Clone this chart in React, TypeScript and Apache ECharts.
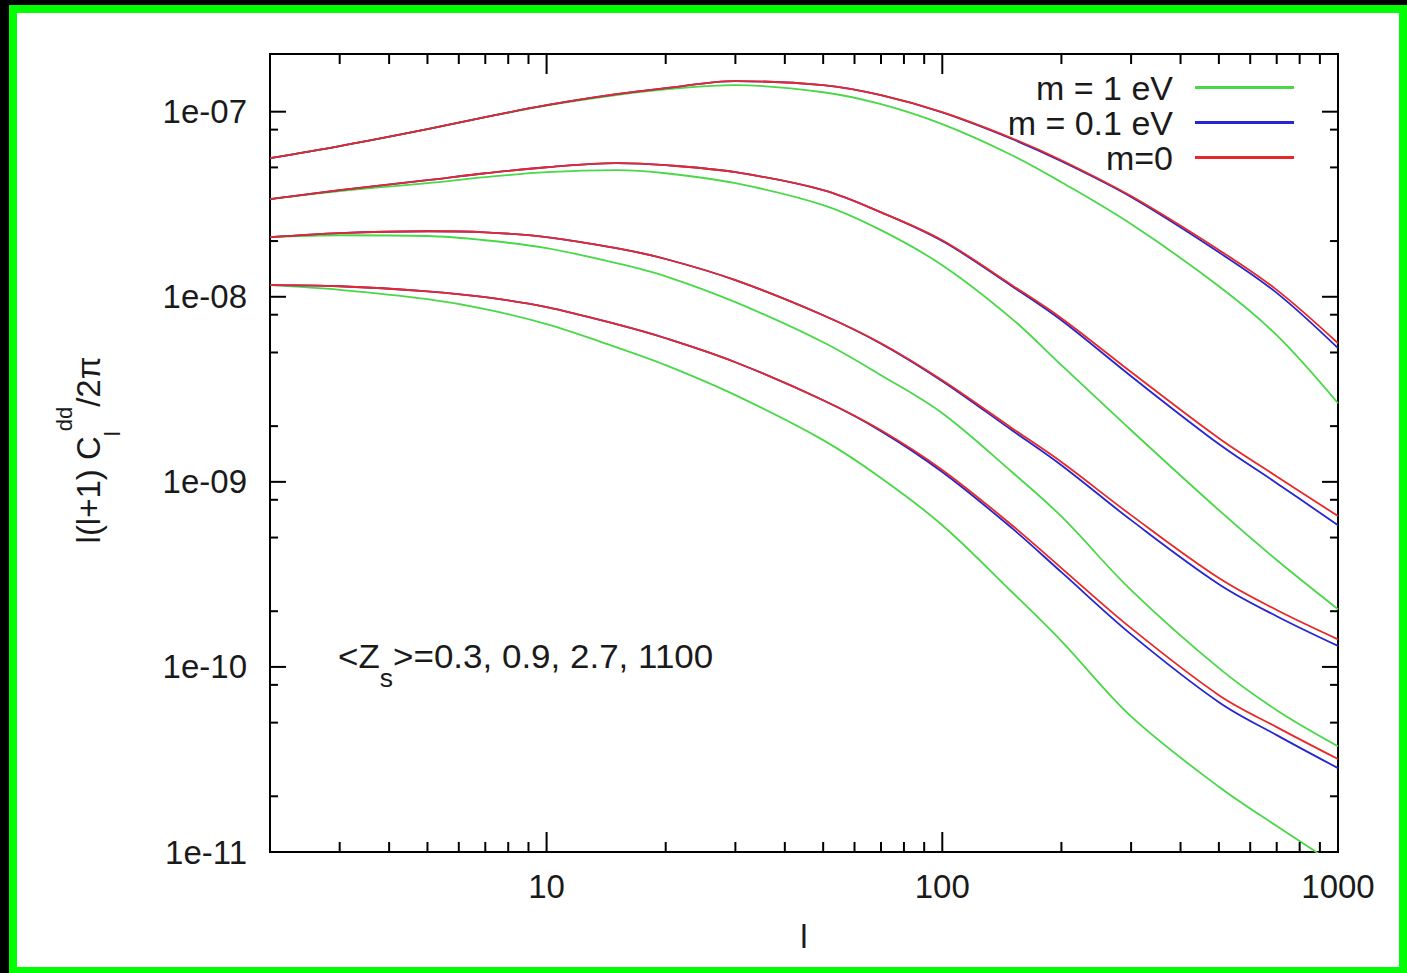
import React, { useEffect, useRef } from 'react';
import * as echarts from 'echarts';

// multipole l
const ells = [2, 3, 5, 7, 10, 15, 20, 30, 50, 70, 100, 150, 200, 300, 500, 700, 1000];

// <z_s> = 1100
const z1100_m0 = [5.61e-8, 6.51e-8, 8.04e-8, 9.34e-8, 1.084e-7, 1.243e-7, 1.34e-7, 1.462e-7, 1.391e-7, 1.228e-7, 9.94e-8, 7.19e-8, 5.47e-8, 3.5e-8, 1.79e-8, 1.09e-8, 5.61e-9];
const z1100_m01 = [5.61e-8, 6.51e-8, 8.04e-8, 9.34e-8, 1.084e-7, 1.243e-7, 1.34e-7, 1.462e-7, 1.391e-7, 1.228e-7, 9.9e-8, 7.12e-8, 5.4e-8, 3.46e-8, 1.74e-8, 1.05e-8, 5.28e-9];
const z1100_m1 = [5.61e-8, 6.51e-8, 8.04e-8, 9.34e-8, 1.08e-7, 1.23e-7, 1.32e-7, 1.391e-7, 1.274e-7, 1.098e-7, 8.56e-8, 5.82e-8, 4.16e-8, 2.47e-8, 1.14e-8, 6.2e-9, 2.66e-9];

// <z_s> = 2.7
const z27_m0 = [3.37e-8, 3.77e-8, 4.27e-8, 4.65e-8, 5.01e-8, 5.27e-8, 5.14e-8, 4.71e-8, 3.77e-8, 2.86e-8, 2.02e-8, 1.155e-8, 7.66e-9, 3.92e-9, 1.72e-9, 1.07e-9, 6.53e-10];
const z27_m01 = [3.37e-8, 3.77e-8, 4.27e-8, 4.65e-8, 5.01e-8, 5.27e-8, 5.14e-8, 4.71e-8, 3.77e-8, 2.86e-8, 2.0e-8, 1.14e-8, 7.47e-9, 3.72e-9, 1.6e-9, 9.84e-10, 5.83e-10];
const z27_m1 = [3.37e-8, 3.72e-8, 4.11e-8, 4.43e-8, 4.71e-8, 4.83e-8, 4.65e-8, 4.11e-8, 3.13e-8, 2.29e-8, 1.48e-8, 7.6e-9, 4.27e-9, 1.9e-9, 7.03e-10, 3.78e-10, 2.05e-10];

// <z_s> = 0.9
const z09_m0 = [2.1e-8, 2.21e-8, 2.26e-8, 2.23e-8, 2.1e-8, 1.83e-8, 1.6e-8, 1.23e-8, 7.95e-9, 5.61e-9, 3.54e-9, 1.95e-9, 1.28e-9, 6.61e-10, 3.02e-10, 2.03e-10, 1.41e-10];
const z09_m01 = [2.1e-8, 2.21e-8, 2.26e-8, 2.23e-8, 2.1e-8, 1.83e-8, 1.6e-8, 1.23e-8, 7.95e-9, 5.58e-9, 3.5e-9, 1.9e-9, 1.23e-9, 6.21e-10, 2.8e-10, 1.88e-10, 1.3e-10];
const z09_m1 = [2.1e-8, 2.15e-8, 2.13e-8, 2.02e-8, 1.83e-8, 1.52e-8, 1.29e-8, 9.35e-9, 5.68e-9, 3.77e-9, 2.35e-9, 1.13e-9, 6.5e-10, 2.6e-10, 9.85e-11, 5.84e-11, 3.73e-11];

// <z_s> = 0.3
const z03_m0 = [1.155e-8, 1.14e-8, 1.07e-8, 9.95e-9, 8.79e-9, 7.11e-9, 5.97e-9, 4.43e-9, 2.76e-9, 1.9e-9, 1.16e-9, 5.83e-10, 3.42e-10, 1.62e-10, 7.04e-11, 4.73e-11, 3.18e-11];
const z03_m01 = [1.155e-8, 1.14e-8, 1.07e-8, 9.95e-9, 8.79e-9, 7.11e-9, 5.97e-9, 4.43e-9, 2.76e-9, 1.88e-9, 1.13e-9, 5.62e-10, 3.25e-10, 1.5e-10, 6.45e-11, 4.28e-11, 2.84e-11];
const z03_m1 = [1.155e-8, 1.09e-8, 9.7e-9, 8.57e-9, 7.11e-9, 5.34e-9, 4.27e-9, 2.94e-9, 1.68e-9, 1.05e-9, 5.83e-10, 2.54e-10, 1.38e-10, 5.4e-11, 2.25e-11, 1.38e-11, 8.39e-12];

// legend names
const massNames = ['m = 1 eV', 'm = 0.1 eV', 'm=0'];

// axis ranges and ticks
const X_MIN = 2;
const X_MAX = 1000;
const Y_MIN = 1e-11;
const Y_MAX = 2.05e-7;
const xMajorTicks = [10, 100, 1000];
const xMinorTicks = [3, 4, 5, 6, 7, 8, 9, 20, 30, 40, 50, 60, 70, 80, 90, 200, 300, 400, 500, 600, 700, 800, 900];
const yMajorTicks = [1e-11, 1e-10, 1e-9, 1e-8, 1e-7];
const yMinorTicks = [2e-11, 5e-11, 8e-11, 2e-10, 5e-10, 8e-10, 2e-9, 5e-9, 8e-9, 2e-8, 5e-8, 8e-8];

const annotationText = '{m|<Z}{s|s}{m|>=0.3, 0.9, 2.7, 1100}';
const yTitleText = '{m|l(l+1) C}{b|l}{p|dd}{m|/2π}';

const FONT = '"Liberation Sans", Arial, Helvetica, sans-serif';
const TEXT_COLOR = '#1a1a1a';
const COLORS = { m1: '#48d848', m01: '#2626d0', m0: '#e82828' };

function pair(vals: number[]) {
  return ells.map((l, i) => [l, vals[i]]);
}

function isPow10(v: number) {
  const e = Math.log10(v);
  return Math.abs(e - Math.round(e)) < 1e-6;
}

function lineSeries(name: string, vals: number[], color: string, z: number) {
  return {
    type: 'line',
    name,
    data: pair(vals),
    smooth: 0.35,
    showSymbol: false,
    symbol: 'none',
    z,
    lineStyle: { color, width: 1.8 },
    itemStyle: { color },
    emphasis: { disabled: true },
  };
}

function tickSeries(vals: number[], axis: 'x' | 'y', len: number) {
  return {
    type: 'custom',
    silent: true,
    z: 10,
    clip: false,
    data: vals.map((v) => (axis === 'x' ? [v, Y_MIN] : [X_MIN, v])),
    renderItem: (params: any, api: any) => {
      const cs = params.coordSys;
      const p = api.coord([api.value(0), api.value(1)]);
      const style = { stroke: '#000', lineWidth: 2 };
      if (axis === 'x') {
        const b = cs.y + cs.height;
        return {
          type: 'group',
          children: [
            { type: 'line', shape: { x1: p[0], y1: b, x2: p[0], y2: b - len }, style },
            { type: 'line', shape: { x1: p[0], y1: cs.y, x2: p[0], y2: cs.y + len }, style },
          ],
        };
      }
      const r = cs.x + cs.width;
      return {
        type: 'group',
        children: [
          { type: 'line', shape: { x1: cs.x, y1: p[1], x2: cs.x + len, y2: p[1] }, style },
          { type: 'line', shape: { x1: r, y1: p[1], x2: r - len, y2: p[1] }, style },
        ],
      };
    },
  };
}

export default function App() {
  const ref = useRef<HTMLDivElement>(null);

  useEffect(() => {
    if (!ref.current) return;
    const chart = echarts.init(ref.current, null, { renderer: 'svg' });
    const option = {
      animation: false,
      backgroundColor: '#000',
      graphic: [
        { type: 'rect', z: -10, silent: true, shape: { x: 9, y: 5, width: 1398, height: 968 }, style: { fill: '#00ff00' } },
        { type: 'rect', z: -9, silent: true, shape: { x: 17, y: 13, width: 1382, height: 954 }, style: { fill: '#ffffff' } },
        {
          type: 'text',
          z: 20,
          x: 88,
          y: 450,
          rotation: Math.PI / 2,
          style: {
            text: yTitleText,
            align: 'center',
            verticalAlign: 'middle',
            fill: TEXT_COLOR,
            fontFamily: FONT,
            rich: {
              m: { fontSize: 33, lineHeight: 70, fontFamily: FONT, fill: TEXT_COLOR },
              b: { fontSize: 22, lineHeight: 50, verticalAlign: 'bottom', fontFamily: FONT, fill: TEXT_COLOR },
              p: { fontSize: 22, lineHeight: 30, verticalAlign: 'top', fontFamily: FONT, fill: TEXT_COLOR },
            },
          },
        },
        {
          type: 'text',
          z: 20,
          x: 338,
          y: 656,
          scaleX: 1.06,
          style: {
            text: annotationText,
            align: 'left',
            verticalAlign: 'middle',
            fill: TEXT_COLOR,
            fontFamily: FONT,
            rich: {
              m: { fontSize: 33, lineHeight: 70, fontFamily: FONT, fill: TEXT_COLOR },
              s: { fontSize: 25, lineHeight: 34, verticalAlign: 'bottom', fontFamily: FONT, fill: TEXT_COLOR },
            },
          },
        },
      ],
      grid: {
        left: 270,
        top: 54,
        right: 69,
        bottom: 121,
        show: true,
        borderColor: '#000',
        borderWidth: 2,
        backgroundColor: 'transparent',
      },
      legend: {
        data: massNames,
        orient: 'vertical',
        align: 'right',
        right: 113,
        top: 70,
        padding: 0,
        itemGap: 0,
        itemWidth: 99,
        itemHeight: 3,
        icon: 'rect',
        selectedMode: false,
        textStyle: { fontSize: 34, fontFamily: FONT, color: TEXT_COLOR, lineHeight: 35, padding: [0, 17, 0, 0] },
      },
      xAxis: {
        type: 'log',
        min: X_MIN,
        max: X_MAX,
        name: 'l',
        nameLocation: 'middle',
        nameGap: 68,
        nameTextStyle: { fontSize: 33, fontFamily: FONT, color: TEXT_COLOR },
        axisLine: { show: false },
        axisTick: { show: false },
        splitLine: { show: false },
        axisLabel: {
          fontSize: 33,
          fontFamily: FONT,
          color: TEXT_COLOR,
          margin: 18,
          formatter: (v: number) => (isPow10(v) ? String(Math.round(v)) : ''),
        },
      },
      yAxis: {
        type: 'log',
        min: Y_MIN,
        max: Y_MAX,
        axisLine: { show: false },
        axisTick: { show: false },
        splitLine: { show: false },
        axisLabel: {
          fontSize: 33,
          fontFamily: FONT,
          color: TEXT_COLOR,
          margin: 23,
          formatter: (v: number) => {
            if (!isPow10(v)) return '';
            const e = Math.round(Math.log10(v));
            const a = Math.abs(e);
            return '1e' + (e < 0 ? '-' : '+') + (a < 10 ? '0' + a : String(a));
          },
        },
      },
      series: [
        lineSeries(massNames[0], z1100_m1, COLORS.m1, 2),
        lineSeries(massNames[0], z27_m1, COLORS.m1, 2),
        lineSeries(massNames[0], z09_m1, COLORS.m1, 2),
        lineSeries(massNames[0], z03_m1, COLORS.m1, 2),
        lineSeries(massNames[1], z1100_m01, COLORS.m01, 3),
        lineSeries(massNames[1], z27_m01, COLORS.m01, 3),
        lineSeries(massNames[1], z09_m01, COLORS.m01, 3),
        lineSeries(massNames[1], z03_m01, COLORS.m01, 3),
        lineSeries(massNames[2], z1100_m0, COLORS.m0, 4),
        lineSeries(massNames[2], z27_m0, COLORS.m0, 4),
        lineSeries(massNames[2], z09_m0, COLORS.m0, 4),
        lineSeries(massNames[2], z03_m0, COLORS.m0, 4),
        tickSeries(xMajorTicks, 'x', 20),
        tickSeries(xMinorTicks, 'x', 10),
        tickSeries(yMajorTicks, 'y', 16),
        tickSeries(yMinorTicks, 'y', 8),
      ],
    };
    chart.setOption(option as any);
    return () => chart.dispose();
  }, []);

  return <div ref={ref} style={{ position: 'fixed', left: 0, top: 0, width: 1407, height: 973 }} />;
}
